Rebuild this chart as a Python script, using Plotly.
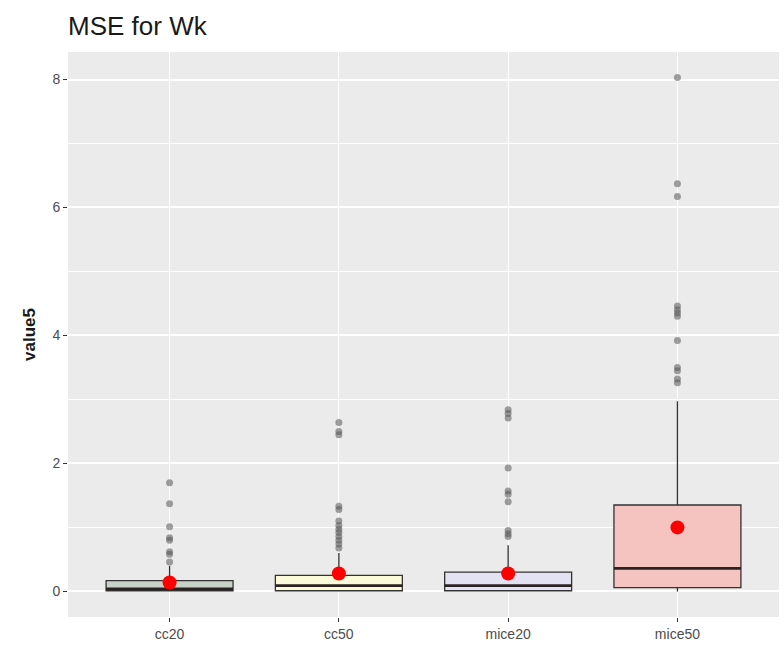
import plotly.graph_objects as go

# Box summaries for each imputation scenario
categories = ["cc20", "cc50", "mice20", "mice50"]
q1 = [0.01, 0.01, 0.01, 0.06]
median = [0.04, 0.09, 0.09, 0.36]
q3 = [0.17, 0.25, 0.30, 1.35]
lower_whisker = [0.0, 0.0, 0.0, 0.0]
upper_whisker = [0.40, 0.60, 0.72, 2.97]
means = [0.14, 0.28, 0.28, 1.00]

# Points beyond the whiskers
outliers = {
    "cc20": [1.70, 1.37, 1.01, 0.84, 0.80, 0.62, 0.58, 0.46],
    "cc50": [2.64, 2.50, 2.45, 1.33, 1.28, 1.10, 1.03, 0.97, 0.92, 0.86, 0.80, 0.74, 0.68],
    "mice20": [2.84, 2.78, 2.71, 1.93, 1.57, 1.52, 1.40, 0.95, 0.90, 0.86],
    "mice50": [8.03, 6.37, 6.17, 4.46, 4.40, 4.35, 4.30, 3.92, 3.50, 3.45, 3.32, 3.26],
}

fills = ["#c9d2c9", "#fbfbd9", "#e2e2f2", "#f5c4c0"]
y_ticks = [0, 2, 4, 6, 8]

BOX_W = 0.75
EDGE = "#333333"
xpos = list(range(1, len(categories) + 1))

fig = go.Figure()

for i, cat in enumerate(categories):
    fig.add_trace(go.Box(
        x=[xpos[i]], q1=[q1[i]], median=[median[i]], q3=[q3[i]],
        lowerfence=[lower_whisker[i]], upperfence=[upper_whisker[i]],
        width=BOX_W, whiskerwidth=0, boxpoints=False,
        fillcolor=fills[i], line=dict(color=EDGE, width=1.3),
        hoverinfo="skip", showlegend=False,
    ))
    # heavier median bar
    fig.add_trace(go.Scatter(
        x=[xpos[i] - BOX_W / 2, xpos[i] + BOX_W / 2], y=[median[i], median[i]],
        mode="lines", line=dict(color="#2b2222", width=2.6),
        hoverinfo="skip", showlegend=False,
    ))
    pts = outliers[cat]
    fig.add_trace(go.Scatter(
        x=[xpos[i]] * len(pts), y=pts, mode="markers",
        marker=dict(color="rgba(85,85,85,0.55)", size=7, line=dict(width=0)),
        hoverinfo="skip", showlegend=False,
    ))

# group means
fig.add_trace(go.Scatter(
    x=xpos, y=means, mode="markers",
    marker=dict(color="#ff0000", size=14, line=dict(width=0)),
    hoverinfo="skip", showlegend=False,
))

fig.update_layout(
    width=784, height=652,
    margin=dict(l=68, r=5, t=52, b=35),
    paper_bgcolor="white", plot_bgcolor="#ebebeb",
    title=dict(text="MSE for Wk", x=68 / 784, xanchor="left", y=0.96, yanchor="middle",
               font=dict(family="Liberation Sans, Arial", size=26, color="#1a1a1a")),
    font=dict(family="Liberation Sans, Arial", color="#4d4d4d", size=14),
)

fig.update_xaxes(
    range=[0.4, 4.6], tickvals=xpos, ticktext=categories,
    showgrid=True, gridcolor="white", gridwidth=1.2, zeroline=False,
    ticks="outside", ticklen=4, tickcolor="#333333", tickwidth=1,
    tickfont=dict(size=14, color="#4d4d4d"), showline=False,
)
fig.update_yaxes(
    range=[-0.40, 8.43], tickvals=y_ticks, ticktext=[str(v) for v in y_ticks],
    showgrid=True, gridcolor="white", gridwidth=1.5, zeroline=False,
    ticks="outside", ticklen=4, tickcolor="#333333", tickwidth=1,
    tickfont=dict(size=14, color="#4d4d4d"), showline=False,
    minor=dict(tickvals=[1, 3, 5, 7], showgrid=True, gridcolor="white", gridwidth=0.6, ticks=""),
    title=dict(text="value5", font=dict(family="Liberation Sans", size=17, color="#1a1a1a", weight="bold"),
               standoff=12),
)

fig.write_html("out.html")
